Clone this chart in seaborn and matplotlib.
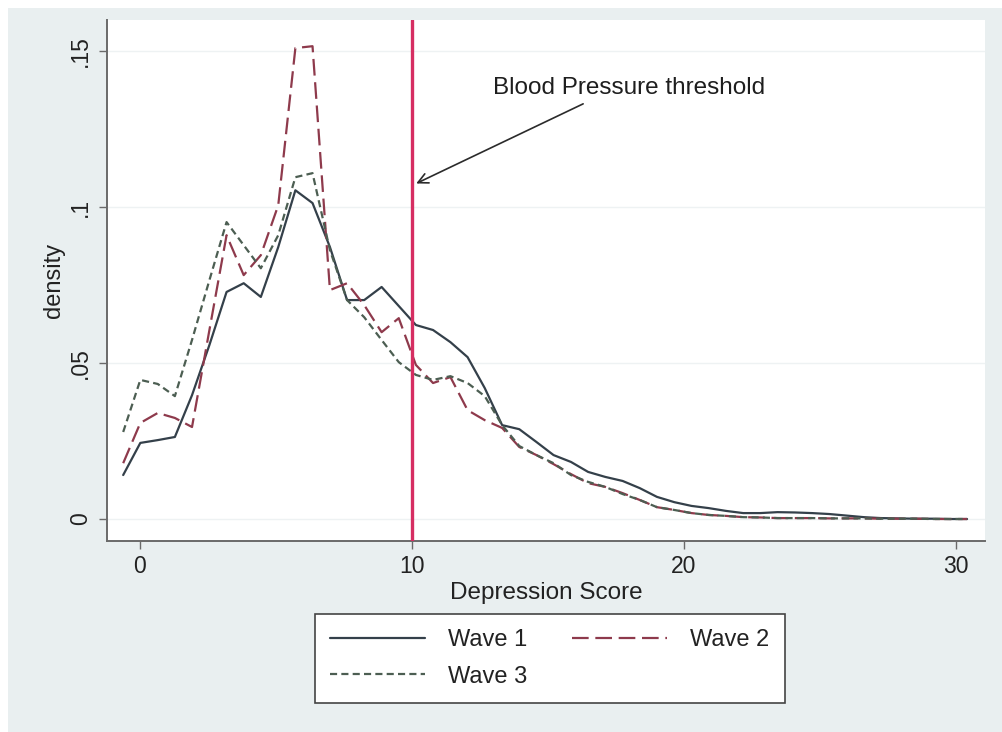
import matplotlib
matplotlib.use("Agg")
import matplotlib.pyplot as plt
from matplotlib.patches import Rectangle
import seaborn as sns
import pandas as pd

# Kernel density estimates of depression score, evaluated on a common 50-point grid
score = [-0.60, 0.03, 0.67, 1.30, 1.93, 2.57, 3.20, 3.83, 4.46, 5.10,
         5.73, 6.36, 7.00, 7.63, 8.26, 8.90, 9.53, 10.16, 10.79, 11.43,
         12.06, 12.69, 13.33, 13.96, 14.59, 15.22, 15.86, 16.49, 17.12, 17.76,
         18.39, 19.02, 19.66, 20.29, 20.92, 21.56, 22.19, 22.82, 23.45, 24.09,
         24.72, 25.35, 25.99, 26.62, 27.25, 27.89, 28.52, 29.15, 29.78, 30.42]

wave1 = [0.0141, 0.0244, 0.0253, 0.0263, 0.0397, 0.0558, 0.0728, 0.0756, 0.0712, 0.0872,
         0.1054, 0.1013, 0.0872, 0.0702, 0.0702, 0.0744, 0.0683, 0.0622, 0.0606, 0.0567,
         0.0519, 0.0420, 0.0301, 0.0288, 0.0247, 0.0205, 0.0183, 0.0151, 0.0135, 0.0122,
         0.0099, 0.0071, 0.0054, 0.0042, 0.0035, 0.0026, 0.0019, 0.0019, 0.0022, 0.0021,
         0.0019, 0.0016, 0.0011, 0.0006, 0.0003, 0.0002, 0.0001, 0.0001, 0.0000, 0.0000]

wave2 = [0.0179, 0.0308, 0.0340, 0.0324, 0.0295, 0.0606, 0.0910, 0.0782, 0.0846, 0.1006,
         0.1510, 0.1516, 0.0734, 0.0756, 0.0686, 0.0599, 0.0644, 0.0494, 0.0436, 0.0455,
         0.0349, 0.0317, 0.0292, 0.0231, 0.0205, 0.0176, 0.0144, 0.0115, 0.0103, 0.0083,
         0.0061, 0.0038, 0.0029, 0.0019, 0.0013, 0.0010, 0.0006, 0.0005, 0.0003, 0.0003,
         0.0003, 0.0002, 0.0002, 0.0002, 0.0001, 0.0001, 0.0001, 0.0000, 0.0000, 0.0000]

wave3 = [0.0279, 0.0446, 0.0433, 0.0394, 0.0574, 0.0766, 0.0952, 0.0878, 0.0804, 0.0910,
         0.1096, 0.1109, 0.0862, 0.0702, 0.0647, 0.0574, 0.0503, 0.0462, 0.0446, 0.0458,
         0.0436, 0.0394, 0.0301, 0.0234, 0.0205, 0.0179, 0.0141, 0.0119, 0.0103, 0.0080,
         0.0061, 0.0038, 0.0029, 0.0019, 0.0013, 0.0010, 0.0006, 0.0005, 0.0003, 0.0003,
         0.0003, 0.0002, 0.0002, 0.0002, 0.0001, 0.0001, 0.0001, 0.0000, 0.0000, 0.0000]

waves = ["Wave 1", "Wave 2", "Wave 3"]
threshold = 10
annotation = "Blood Pressure threshold"

xticks = [0, 10, 20, 30]
yticks = [0, 0.05, 0.1, 0.15]
yticklabels = ["0", ".05", ".1", ".15"]

df = pd.DataFrame({
    "score": score * 3,
    "density": wave1 + wave2 + wave3,
    "wave": [w for w in waves for _ in score],
})

sns.set_theme(style="white")
plt.rcParams["font.family"] = ["Liberation Sans", "DejaVu Sans"]

fig = plt.figure(figsize=(10.03, 7.32), dpi=100)
fig.patch.set_facecolor("white")
fig.add_artist(Rectangle((8 / 1003, 0), 1, 1 - 8 / 732, transform=fig.transFigure,
                         facecolor="#e9eff0", edgecolor="none", zorder=-10))

ax = fig.add_axes([107 / 1003, 1 - 541 / 732, (985 - 107) / 1003, (541 - 20) / 732])
ax.set_facecolor("white")

palette = {"Wave 1": "#34404a", "Wave 2": "#8e3a4c", "Wave 3": "#4c5e52"}
dashes = {"Wave 1": "", "Wave 2": (7.5, 3), "Wave 3": (3.2, 1.9)}

sns.lineplot(data=df, x="score", y="density", hue="wave", style="wave",
             palette=palette, dashes=dashes, linewidth=1.6, legend=False,
             sort=False, ax=ax, zorder=3)

# faint horizontal grid at y ticks
for yv in yticks:
    ax.axhline(yv, color="#eef2f3", lw=1.0, zorder=1)

ax.axvline(threshold, color="#d62e62", lw=2.4, zorder=4)

ax.annotate("", xy=(10.08, 0.1072), xytext=(16.4, 0.1335),
            arrowprops=dict(arrowstyle="->", color="#2b2b2b", lw=1.2,
                            mutation_scale=18), zorder=5)
ax.text(18.0, 0.1381, annotation, ha="center", va="center", fontsize=17.5,
        color="#1e1e1e")

ax.set_xlim(-1.195, 31.08)
ax.set_ylim(-0.00705, 0.16)
ax.set_xticks(xticks)
ax.set_xticklabels([str(t) for t in xticks])
ax.set_yticks(yticks)
ax.set_yticklabels(yticklabels, rotation=90, va="center")

ax.tick_params(axis="both", which="major", direction="out", length=6, width=1.0,
               color="#6a6a6a", labelsize=16.5, labelcolor="#222222",
               bottom=True, left=True)
ax.tick_params(axis="x", pad=4)
ax.tick_params(axis="y", pad=5)

for side in ["top", "right"]:
    ax.spines[side].set_visible(False)
for side in ["left", "bottom"]:
    ax.spines[side].set_color("#6a6a6a")
    ax.spines[side].set_linewidth(1.4)

ax.set_xlabel("Depression Score", fontsize=17.5, color="#222222", labelpad=3)
ax.set_ylabel("density", fontsize=17, color="#222222", labelpad=3)

lines = ax.get_lines()[:3]
order = [0, 2, 1]
leg = fig.legend([lines[i] for i in order], [waves[i] for i in order],
                 loc="upper center", bbox_to_anchor=(550 / 1003, 1 - 614 / 732),
                 ncol=2, fontsize=17, frameon=True, fancybox=False, framealpha=1,
                 handlelength=4.0, handletextpad=1.0, columnspacing=1.9,
                 borderpad=0.65, labelspacing=0.6, borderaxespad=0)
leg.get_frame().set_edgecolor("#444444")
leg.get_frame().set_linewidth(1.2)
leg.get_frame().set_facecolor("white")
for t in leg.get_texts():
    t.set_color("#222222")

fig.savefig("out.png", dpi=100, facecolor=fig.get_facecolor())
